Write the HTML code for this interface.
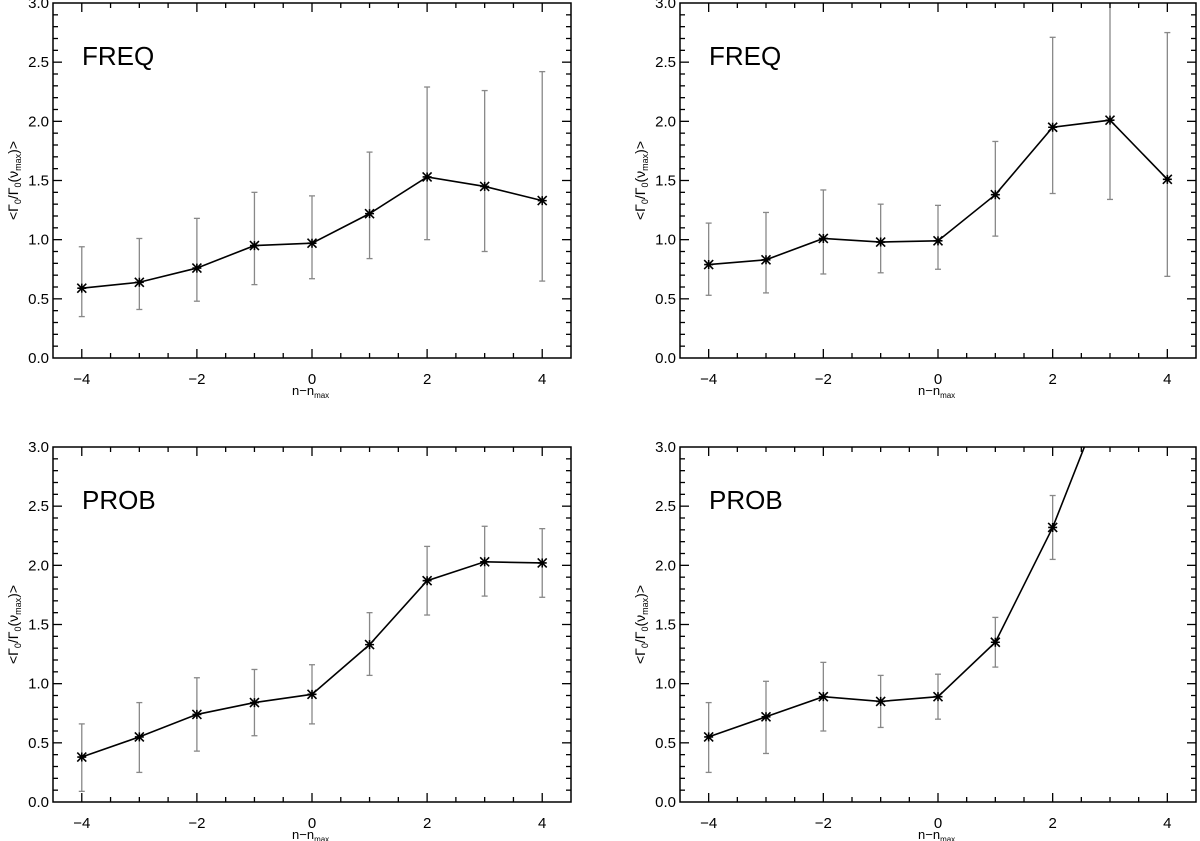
<!DOCTYPE html>
<html><head><meta charset="utf-8"><style>
body{margin:0;background:#fff}
svg{display:block;font-family:"Liberation Sans","DejaVu Sans",sans-serif}
</style></head><body>
<svg id="fig" width="1200" height="841" viewBox="0 0 1200 841"></svg>
<script>
const xCats=[-4,-3,-2,-1,0,1,2,3,4];
const xTicks=[-4,-2,0,2,4];
const yTicks=[0,0.5,1,1.5,2,2.5,3];
const tlVal=[0.59,0.64,0.76,0.95,0.97,1.22,1.53,1.45,1.33];
const tlLo=[0.35,0.41,0.48,0.62,0.67,0.84,1.00,0.90,0.65];
const tlHi=[0.94,1.01,1.18,1.40,1.37,1.74,2.29,2.26,2.42];
const trVal=[0.79,0.83,1.01,0.98,0.99,1.38,1.95,2.01,1.51];
const trLo=[0.53,0.55,0.71,0.72,0.75,1.03,1.39,1.34,0.69];
const trHi=[1.14,1.23,1.42,1.30,1.29,1.83,2.71,3.10,2.75];
const blVal=[0.38,0.55,0.74,0.84,0.91,1.33,1.87,2.03,2.02];
const blLo=[0.09,0.25,0.43,0.56,0.66,1.07,1.58,1.74,1.73];
const blHi=[0.66,0.84,1.05,1.12,1.16,1.60,2.16,2.33,2.31];
const brVal=[0.55,0.72,0.89,0.85,0.89,1.35,2.32,3.55,4.5];
const brLo=[0.25,0.41,0.60,0.63,0.70,1.14,2.05,3.3,4.2];
const brHi=[0.84,1.02,1.18,1.07,1.08,1.56,2.59,3.8,4.8];
const NS='http://www.w3.org/2000/svg';
const svg=document.getElementById('fig');
function mk(tag,attrs,parent){const e=document.createElementNS(NS,tag);for(const k in attrs)e.setAttribute(k,attrs[k]);(parent||svg).appendChild(e);return e;}
function panel(id,L,T,R,B,label,val,lo,hi){
  const g=mk('g',{});
  
  
  const xs=v=>L+(v+4.5)/9*(R-L);
  const ys=v=>B-v/3*(B-T);
  const cid='clip-'+id;
  const cp=mk('clipPath',{id:cid},g);mk('rect',{x:L,y:T,width:R-L,height:B-T},cp);
  const eg=mk('g',{'clip-path':'url(#'+cid+')'},g);
  
  
  xCats.forEach((c,i)=>{
    const x=xs(c);
    mk('line',{x1:x,x2:x,y1:ys(lo[i]),y2:ys(hi[i]),stroke:'#888','stroke-width':1.3},eg);
    mk('line',{x1:x-3,x2:x+3,y1:ys(lo[i]),y2:ys(lo[i]),stroke:'#888','stroke-width':1.3},eg);
    mk('line',{x1:x-3,x2:x+3,y1:ys(hi[i]),y2:ys(hi[i]),stroke:'#888','stroke-width':1.3},eg);
  });
  const pts=xCats.map((c,i)=>xs(c)+','+ys(val[i])).join(' ');
  const pl=mk('polyline',{points:pts,fill:'none',stroke:'#000','stroke-width':1.6,'clip-path':'url(#'+cid+')'},g);
  
  
  const mg=mk('g',{'clip-path':'url(#'+cid+')',stroke:'#000','stroke-width':1.6},g);
  xCats.forEach((c,i)=>{
    const x=xs(c),y=ys(val[i]),s=4.5;
    const m=mk('path',{d:`M${x-s},${y-s}L${x+s},${y+s}M${x-s},${y+s}L${x+s},${y-s}M${x},${y-s}L${x},${y+s}M${x-s},${y}L${x+s},${y}`},mg);
    
    
  });
  mk('rect',{x:L,y:T,width:R-L,height:B-T,fill:'none',stroke:'#000','stroke-width':1.5},g);
  for(let v=-4.5;v<=4.51;v+=0.5){
    const x=xs(v),maj=xTicks.includes(v),len=maj?9:5;
    if(Math.abs(v)>4.4)continue;
    mk('line',{x1:x,x2:x,y1:B,y2:B-len,stroke:'#000','stroke-width':1.3},g);
    mk('line',{x1:x,x2:x,y1:T,y2:T+len,stroke:'#000','stroke-width':1.3},g);
  }
  xTicks.forEach(v=>{const t=mk('text',{x:xs(v),y:B+26,'text-anchor':'middle','font-size':15},g);t.textContent=(v<0?'\u2212'+(-v):v);
    });
  for(let k=1;k<30;k++){
    const v=k/10,y=ys(v),maj=k%5===0,len=maj?9:5;
    mk('line',{x1:L,x2:L+len,y1:y,y2:y,stroke:'#000','stroke-width':1.3},g);
    mk('line',{x1:R,x2:R-len,y1:y,y2:y,stroke:'#000','stroke-width':1.3},g);
  }
  yTicks.forEach(v=>{const t=mk('text',{x:L-4,y:ys(v)+5,'text-anchor':'end','font-size':15},g);t.textContent=v.toFixed(1);
    });
  const xl=mk('text',{x:(L+R)/2-20,y:B+37,'font-size':13},g);
  xl.innerHTML='n\u2212n<tspan font-size="8" dy="3">max</tspan>';
  
  const yl=mk('text',{transform:`translate(${L-35},${(T+B)/2}) rotate(-90)`,'text-anchor':'middle','font-size':14},g);
  yl.innerHTML='&lt;\u0393<tspan font-size="9" dy="3">0</tspan><tspan dy="-3">/\u0393</tspan><tspan font-size="9" dy="3">0</tspan><tspan dy="-3">(\u03bd</tspan><tspan font-size="9" dy="3">max</tspan><tspan dy="-3">)&gt;</tspan>';
  
  const lb=mk('text',{x:L+29,y:T+62,'font-size':26},g);
  lb.textContent=label;
  
}
panel('panel-top-left',53,3,571,358,'FREQ',tlVal,tlLo,tlHi);
panel('panel-top-right',680,3,1196,358,'FREQ',trVal,trLo,trHi);
panel('panel-bottom-left',53,447,571,802,'PROB',blVal,blLo,blHi);
panel('panel-bottom-right',680,447,1196,802,'PROB',brVal,brLo,brHi);
</script>
</body></html>
